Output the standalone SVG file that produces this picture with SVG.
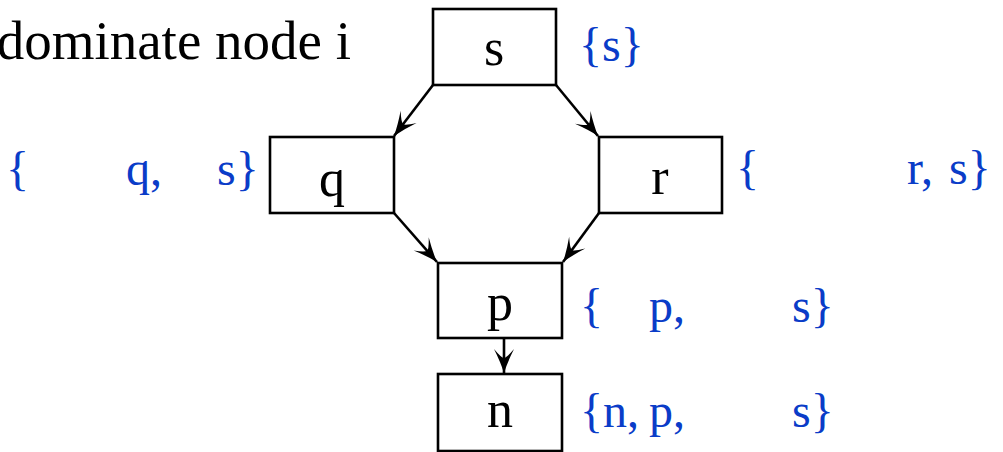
<svg xmlns="http://www.w3.org/2000/svg" width="1003" height="452" viewBox="0 0 1003 452">
<style>
.box{fill:#fff;stroke:#000;stroke-width:2.6}
.lbl{font-family:"Liberation Serif",serif;font-size:52px;fill:#000;text-anchor:middle}
.dom{font-family:"Liberation Serif",serif;font-size:48px;fill:#0a3cc8}
.edge{stroke:#000;stroke-width:2.6;fill:none;marker-end:url(#ah)}
</style>
<defs>
<marker id="ah" viewBox="-25 -11 26 22" refX="0" refY="0" markerWidth="26" markerHeight="22" orient="auto" markerUnits="userSpaceOnUse">
<path d="M0,0 Q-11,-3.5 -24,-10 Q-15,-2.5 -15,0 Q-15,2.5 -24,10 Q-11,3.5 0,0 Z" fill="#000"/>
</marker>
</defs>
<text x="351" y="59" font-family="Liberation Serif, serif" font-size="55" text-anchor="end" fill="#000">dominate node i</text>
<g id="connectors">
<line class="edge" x1="433" y1="85" x2="394" y2="136"/>
<line class="edge" x1="556" y1="85" x2="598" y2="136"/>
<line class="edge" x1="394" y1="213" x2="437" y2="262"/>
<line class="edge" x1="599" y1="213" x2="563" y2="262"/>
<line class="edge" x1="504" y1="338" x2="504" y2="373"/>
</g>
<g id="node-s">
<rect class="box" x="433" y="9" width="123" height="76"/>
<text class="lbl" x="494" y="65">s</text>
<text class="dom" x="579" y="61">{s}</text>
</g>
<g id="node-q">
<rect class="box" x="270" y="137" width="124" height="76"/>
<text class="lbl" x="332" y="196">q</text>
<text class="dom" y="185"><tspan x="6">{</tspan><tspan x="126">q,</tspan><tspan x="217">s}</tspan></text>
</g>
<g id="node-r">
<rect class="box" x="599" y="137" width="123" height="76"/>
<text class="lbl" x="660" y="194">r</text>
<text class="dom" y="184"><tspan x="736">{</tspan><tspan x="907">r,</tspan><tspan x="949">s}</tspan></text>
</g>
<g id="node-p">
<rect class="box" x="438" y="263" width="124" height="75"/>
<text class="lbl" x="500" y="320">p</text>
<text class="dom" y="322"><tspan x="580">{</tspan><tspan x="649">p,</tspan><tspan x="792">s}</tspan></text>
</g>
<g id="node-n">
<rect class="box" x="438" y="374" width="124" height="77"/>
<text class="lbl" x="500" y="427">n</text>
<text class="dom" y="427"><tspan x="580">{n,</tspan><tspan x="649">p,</tspan><tspan x="792">s}</tspan></text>
</g>
</svg>
